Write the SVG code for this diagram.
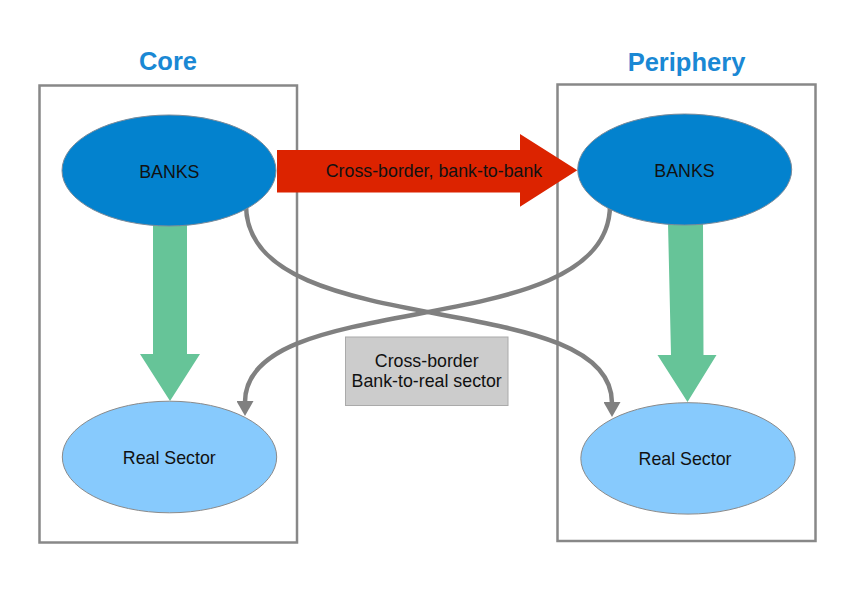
<svg xmlns="http://www.w3.org/2000/svg" width="848" height="600" viewBox="0 0 848 600">
<defs>
<style>
.box{fill:none;stroke:#888888;stroke-width:2.5}
.title{font-family:"Liberation Sans",Arial,sans-serif;font-weight:bold;font-size:25.5px;fill:#1a88d4;text-anchor:middle}
.lbl{font-family:"Liberation Sans",Arial,sans-serif;font-size:17.8px;fill:#111111;text-anchor:middle}
.banks{fill:#0382ce;stroke:#7a8a99;stroke-width:1}
.real{fill:#87cafd;stroke:#8a8a8a;stroke-width:1}
.green{fill:#66c498}
.red{fill:#dc2300}
.curve{fill:none;stroke:#808080;stroke-width:4.5;marker-end:url(#ah)}
.note{fill:#cccccc;stroke:#aaaaaa;stroke-width:1}
</style>
<marker id="ah" markerUnits="userSpaceOnUse" markerWidth="16" markerHeight="17" viewBox="0 0 15 17" refX="1" refY="8.5" orient="auto">
<path d="M0,0 L15,8.5 L0,17 z" fill="#808080"/>
</marker>
</defs>
<rect width="848" height="600" fill="#ffffff"/>
<g id="core-group">
<rect class="box" x="39.5" y="85.5" width="257.5" height="457"/>
<text class="title" x="168" y="70">Core</text>
</g>
<g id="periphery-group">
<rect class="box" x="557.5" y="84.5" width="258" height="456.5"/>
<text class="title" x="686.5" y="70.5">Periphery</text>
</g>
<g id="connectors">
<polygon class="green" points="153,224 187,224 187,354 200,354 170,401 140,354 153,354"/>
<polygon class="green" points="668,223 703,223 703.5,355 716.5,355 687.5,402 657.5,355 671,355"/>
<path class="curve" d="M246,205 C246,345 612,285 612,403"/>
<path class="curve" d="M610,205 C610,345 245,285 245,402"/>
</g>
<g id="core-banks">
<ellipse class="banks" cx="169" cy="170.5" rx="107" ry="55.5"/>
<text class="lbl" x="169.3" y="178">BANKS</text>
</g>
<g id="periphery-banks">
<ellipse class="banks" cx="684.7" cy="169.5" rx="107" ry="55.5"/>
<text class="lbl" x="684.5" y="176.5">BANKS</text>
</g>
<g id="core-real">
<ellipse class="real" cx="169.5" cy="457" rx="107.2" ry="55.8"/>
<text class="lbl" x="169.3" y="463.5">Real Sector</text>
</g>
<g id="periphery-real">
<ellipse class="real" cx="688" cy="458.4" rx="107.2" ry="55.7"/>
<text class="lbl" x="685" y="465">Real Sector</text>
</g>
<g id="bank-to-bank">
<polygon class="red" points="277,150 520,150 520,134 577.3,170.3 520,206.7 520,192.5 277,192.5"/>
<text class="lbl" x="434" y="176.7">Cross-border, bank-to-bank</text>
</g>
<g id="bank-to-real-label">
<rect class="note" x="345.5" y="337" width="162.5" height="68.5"/>
<text class="lbl" x="426.7" y="366.7">Cross-border</text>
<text class="lbl" x="426.7" y="387.3">Bank-to-real sector</text>
</g>
</svg>
